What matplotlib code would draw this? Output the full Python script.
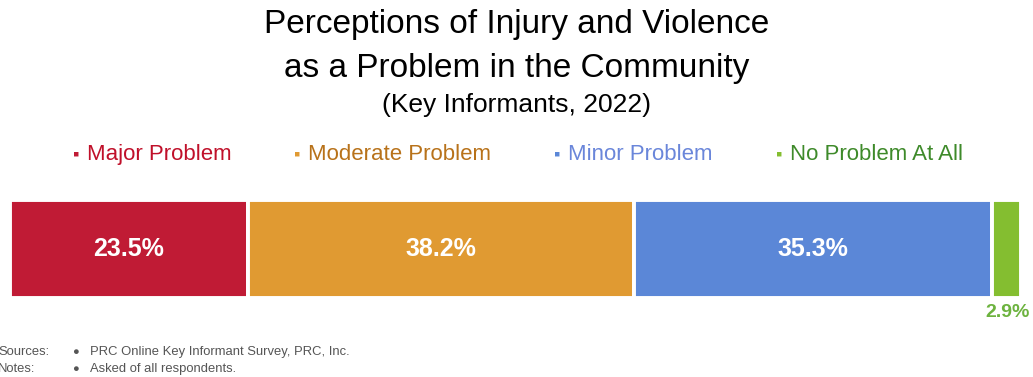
import matplotlib
matplotlib.use("Agg")
import matplotlib.pyplot as plt

categories = ["Major Problem", "Moderate Problem", "Minor Problem", "No Problem At All"]
values = [23.5, 38.2, 35.3, 2.9]
bar_colors = ["#C01B35", "#E09A32", "#5B87D7", "#84BE30"]
text_colors = ["#C0102A", "#B8721A", "#6A86DA", "#3E8A2A"]
label_color_small = "#6DB33F"

plt.rcParams["font.family"] = ["Liberation Sans", "DejaVu Sans"]

W, H = 1033, 377
fig = plt.figure(figsize=(W / 100, H / 100), dpi=100)

ax = fig.add_axes([10 / W, (H - 298) / H, (1021 - 10) / W, (298 - 200) / H])
left = 0
for v, c in zip(values, bar_colors):
    ax.barh(0, v, left=left, height=1.0, color=c, edgecolor="white", linewidth=2.8)
    left += v
ax.set_xlim(0, sum(values))
ax.set_ylim(-0.5, 0.5)
ax.axis("off")

left = 0
for i, v in enumerate(values):
    if v > 5:
        ax.text(left + v / 2, 0, f"{v:.1f}%", ha="center", va="center",
                color="white", fontsize=18, fontweight="bold")
    else:
        ax.text(left + v / 2 + 0.15, -0.56, f"{v:.1f}%", ha="center", va="top",
                color=label_color_small, fontsize=14, fontweight="bold")
    left += v

# Title
fig.text(0.5, 1 - 25 / H, "Perceptions of Injury and Violence", ha="center", va="center",
         fontsize=24, color="black")
fig.text(0.5, 1 - 69 / H, "as a Problem in the Community", ha="center", va="center",
         fontsize=24, color="black")
fig.text(0.5, 1 - 105 / H, "(Key Informants, 2022)", ha="center", va="center",
         fontsize=19, color="black")

# Legend
leg_x = [76, 297, 557, 779]
for x, name, bc, tc in zip(leg_x, categories, bar_colors, text_colors):
    fig.text(x / W, 1 - 155 / H, "\u25aa", ha="center", va="center", fontsize=13, color=bc)
    fig.text((x + 11) / W, 1 - 154 / H, name, ha="left", va="center", fontsize=16, color=tc)

# Footnotes
fig.text(-2 / W, 1 - 352 / H, "Sources:", ha="left", va="center", fontsize=9.4, color="#555555")
fig.text(-2 / W, 1 - 369 / H, "Notes:", ha="left", va="center", fontsize=9.4, color="#555555")
for y, s in [(352, "PRC Online Key Informant Survey, PRC, Inc."), (369, "Asked of all respondents.")]:
    fig.text(75 / W, 1 - y / H, "\u25cf", ha="center", va="center", fontsize=8, color="#555555")
    fig.text(90 / W, 1 - y / H, s, ha="left", va="center", fontsize=9.4, color="#555555")

fig.savefig("out.png", dpi=100)
